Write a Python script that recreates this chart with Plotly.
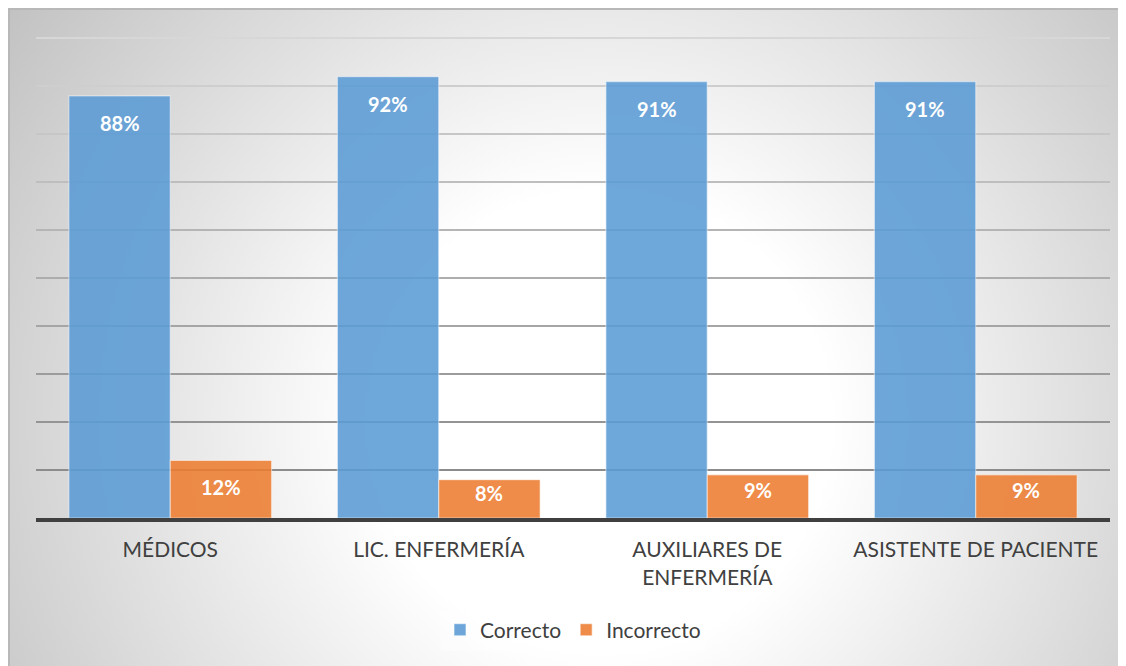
import base64
import plotly.graph_objects as go

# ---- data ----
categories = ["MÉDICOS", "LIC. ENFERMERÍA", "AUXILIARES DE<br>ENFERMERÍA", "ASISTENTE DE PACIENTE"]
correcto = [88, 92, 91, 91]
incorrecto = [12, 8, 9, 9]
series_names = ["Correcto", "Incorrecto"]
grid_vals = [10, 20, 30, 40, 50, 60, 70, 80, 90, 100]

# ---- style ----
# the page has an 8px body margin, so the figure is offset to compensate
W, H = 1126, 666
ML, MR, MT, MB = 28, 24, 28, 156
YMAX = 100.5
PW, PH = W - ML - MR, H - MT - MB
BARGAP = 0.245
FONT = "Lato"
TXT = "#404040"
colors = ["rgb(91,155,213)", "rgb(237,125,49)"]

# radial gradient background (chart area) as svg image
bw, bh = W, H
svg = (
    f"<svg xmlns='http://www.w3.org/2000/svg' width='{bw}' height='{bh}' viewBox='0 0 {bw} {bh}' preserveAspectRatio='none'>"
    f"<defs><radialGradient id='g' gradientUnits='userSpaceOnUse' cx='592' cy='414' r='770'>"
    "<stop offset='0' stop-color='#ffffff'/><stop offset='0.3' stop-color='#ffffff'/>"
    "<stop offset='1' stop-color='#bcbcbc'/></radialGradient></defs>"
    f"<rect x='0' y='0' width='{bw}' height='{bh}' fill='url(#g)'/>"
    f"<line x1='0' y1='1' x2='{bw}' y2='1' stroke='#b8b8b8' stroke-width='2'/>"
    f"<line x1='1' y1='0' x2='1' y2='{bh}' stroke='#b8b8b8' stroke-width='2'/>"
    "</svg>"
)
src = "data:image/svg+xml;base64," + base64.b64encode(svg.encode("utf-8")).decode("ascii")

fig = go.Figure()
for name, vals, col in zip(series_names, [correcto, incorrecto], colors):
    fig.add_trace(go.Bar(
        name=name, x=categories, y=vals,
        marker=dict(color=col, line=dict(color="rgba(255,255,255,0.5)", width=1.2)),
        opacity=0.88, hoverinfo="x+y",
    ))

# data labels (inside end)
px_per_unit = PH / YMAX
bar_px = PW / len(categories) * (1 - BARGAP) / 2
annotations = []
for si, vals in enumerate([correcto, incorrecto]):
    shift = (-0.5 if si == 0 else 0.5) * bar_px
    for cat, v in zip(categories, vals):
        hpx = v * px_per_unit
        ys = -27 if hpx > 50 else -hpx * 0.35
        annotations.append(dict(
            x=cat, y=v, xref="x", yref="y", text=f"<b>{v}%</b>", showarrow=False,
            xshift=shift, yshift=ys, yanchor="middle",
            font=dict(family=FONT, size=20, color="white"),
        ))

layout_axes = {}
# gridlines with a light-to-dark gradient (one overlay axis per line)
n = len(grid_vals)
for i, gv in enumerate(grid_vals):
    t = i / (n - 1)
    c = int(140 + (215 - 140) * t)
    layout_axes[f"yaxis{i+2}"] = dict(
        overlaying="y", range=[0, YMAX], tickvals=[gv], showticklabels=False,
        showgrid=True, gridcolor=f"rgb({c},{c},{c})", gridwidth=2,
        zeroline=False, showline=False, ticks="", fixedrange=True,
    )
for i in range(n):
    fig.add_trace(go.Scatter(x=[categories[0]], y=[None], yaxis=f"y{i+2}",
                             showlegend=False, hoverinfo="skip", mode="markers"))

fig.update_layout(
    width=W, height=H,
    margin=dict(l=ML, r=MR, t=MT, b=MB),
    paper_bgcolor="white", plot_bgcolor="rgba(0,0,0,0)",
    barmode="group", bargap=BARGAP, bargroupgap=0,
    font=dict(family=FONT, color=TXT),
    xaxis=dict(
        showgrid=False, showline=True, linecolor="#404040", linewidth=4,
        ticks="", ticklabelstandoff=10, tickfont=dict(family=FONT, size=21, color=TXT),
    ),
    yaxis=dict(range=[0, YMAX], showgrid=False, showticklabels=False, zeroline=False),
    legend=dict(
        orientation="h", x=0.5, xanchor="center", y=-0.19, yanchor="top",
        font=dict(family=FONT, size=21, color=TXT), bgcolor="rgba(255,255,255,0.4)",
        itemwidth=30,
    ),
    annotations=annotations,
    images=[dict(
        source=src, xref="paper", yref="paper",
        x=(0 - ML) / PW, y=1 + MT / PH,
        sizex=bw / PW, sizey=bh / PH, sizing="stretch", layer="below",
        xanchor="left", yanchor="top",
    )],
    showlegend=True,
    **layout_axes,
)

fig.write_html("out.html", post_script="document.documentElement.style.overflow='hidden';document.body.style.overflow='hidden';")
